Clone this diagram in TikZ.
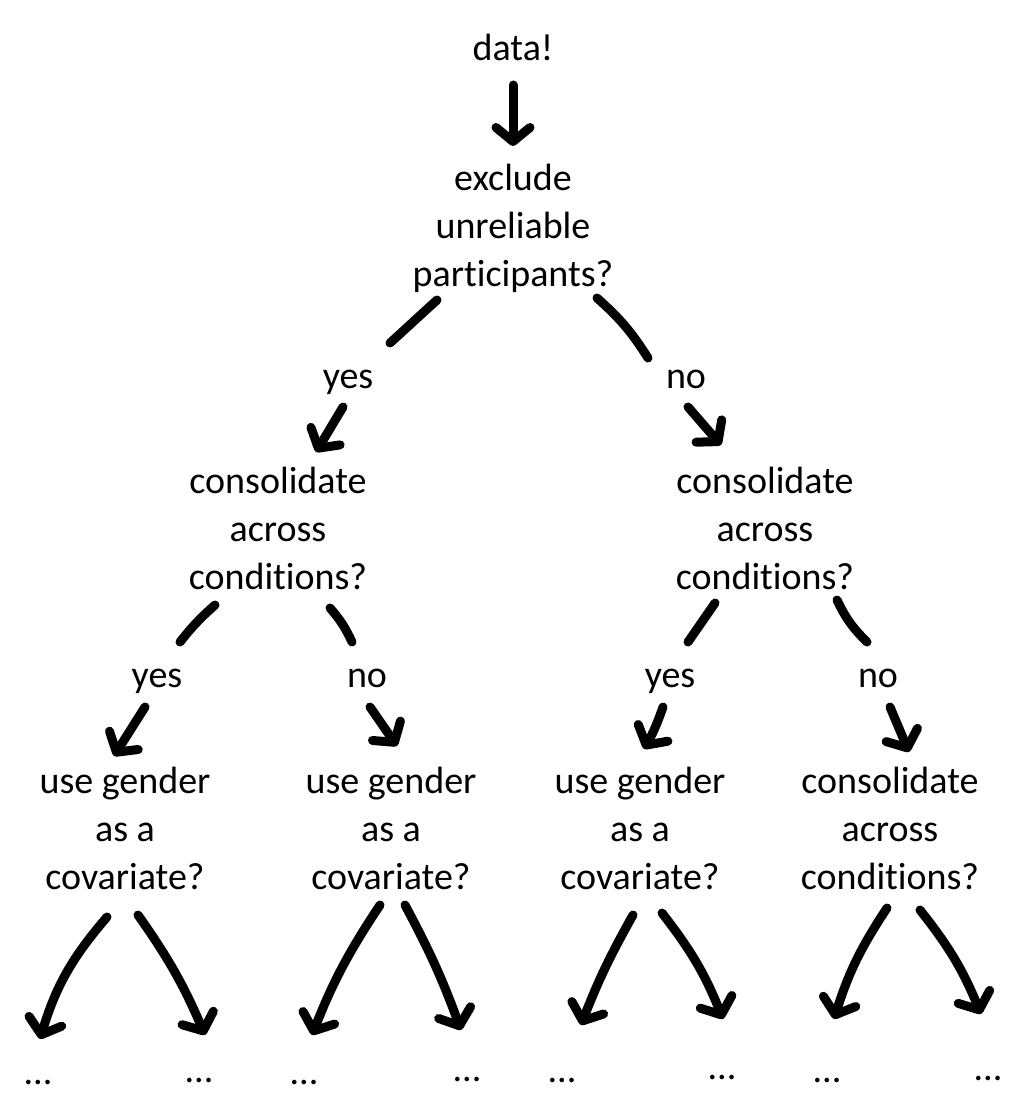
\documentclass[tikz,border=0pt]{standalone}
\usepackage{fontspec}
\setmainfont[Ligatures={NoCommon,NoContextual},RawFeature={-liga,-clig,-calt,-dlig}]{Carlito}
\newcommand\myti{t\kern0pt i}
\usetikzlibrary{arrows.meta}
\begin{document}
\begin{tikzpicture}[x=1pt,y=-1pt,
  txt/.style={inner sep=0pt,align=center,font=\fontsize{38}{48}\selectfont},
  lbl/.style={txt,anchor=base},
  stroke/.style={line width=9pt,line cap=round,line join=round},
  arr/.style={stroke,-{Straight Barb[length=14pt,width=34pt,line cap=round,line join=round]}}]
\useasboundingbox (0,0) rectangle (1034,1102);
% nodes
\node[txt] (data) at (513,47) {data!};
\node[txt] (excl) at (513,228) {exclude\\unreliable\\par\myti cipants?};
\node[lbl] (yA) at (348,388) {yes};
\node[lbl] (nA) at (686,388) {no};
\node[txt] (cL) at (278,528) {consolidate\\across\\condi\myti ons?};
\node[txt] (cR) at (765,528) {consolidate\\across\\condi\myti ons?};
\node[lbl] (yB) at (157,687) {yes};
\node[lbl] (nB) at (367,687) {no};
\node[lbl] (yC) at (670,687) {yes};
\node[lbl] (nC) at (878,687) {no};
\node[txt] (g1) at (125,828) {use gender\\as a\\covariate?};
\node[txt] (g2) at (391,828) {use gender\\as a\\covariate?};
\node[txt] (g3) at (640,828) {use gender\\as a\\covariate?};
\node[txt] (c4) at (890,828) {consolidate\\across\\condi\myti ons?};
\node[lbl] (d1) at (38,1084) {...};
\node[lbl] (d2) at (199,1082) {...};
\node[lbl] (d3) at (304,1084) {...};
\node[lbl] (d4) at (467,1081) {...};
\node[lbl] (d5) at (562,1082) {...};
\node[lbl] (d6) at (722,1079) {...};
\node[lbl] (d7) at (827,1082) {...};
\node[lbl] (d8) at (988,1080) {...};
% connector end points
\coordinate (a0s) at (513,85);   \coordinate (a0e) at (513,146);
\coordinate (l1s) at (437,300);  \coordinate (l1e) at (390,343);
\coordinate (r1s) at (597,298);  \coordinate (r1e) at (648,358);
\coordinate (l1as) at (343,407); \coordinate (l1ae) at (316,452);
\coordinate (r1as) at (688,407); \coordinate (r1ae) at (721,445);
\coordinate (l2s) at (215,605);  \coordinate (l2e) at (180,642);
\coordinate (l2as) at (145,707); \coordinate (l2ae) at (114,756);
\coordinate (m2s) at (330,608);  \coordinate (m2e) at (352,642);
\coordinate (m2as) at (370,707); \coordinate (m2ae) at (397,746);
\coordinate (n2s) at (715,603);  \coordinate (n2e) at (688,642);
\coordinate (n2as) at (663,707); \coordinate (n2ae) at (644,749);
\coordinate (o2s) at (837,600);  \coordinate (o2e) at (867,642);
\coordinate (o2as) at (890,707); \coordinate (o2ae) at (909,752);
% bottom level
\coordinate (b1s) at (107,917); \coordinate (b1e) at (40,1039);
\coordinate (b2s) at (138,915); \coordinate (b2e) at (205,1035);
\coordinate (b3s) at (380,905); \coordinate (b3e) at (312,1035);
\coordinate (b4s) at (405,905); \coordinate (b4e) at (461,1030);
\coordinate (b5s) at (633,915); \coordinate (b5e) at (581,1025);
\coordinate (b6s) at (662,913); \coordinate (b6e) at (723,1019);
\coordinate (b7s) at (887,908); \coordinate (b7e) at (834,1019);
\coordinate (b8s) at (920,910); \coordinate (b8e) at (981,1014);
% connectors
\draw[arr] (a0s) -- (a0e);
\draw[stroke] (l1s) -- (l1e);
\draw[stroke] (r1s) to[bend left=8] (r1e);
\draw[arr] (l1as) -- (l1ae);
\draw[arr] (r1as) -- (r1ae);
\draw[stroke] (l2s) to[bend right=5] (l2e);
\draw[arr] (l2as) -- (l2ae);
\draw[stroke] (m2s) to[bend left=8] (m2e);
\draw[arr] (m2as) -- (m2ae);
\draw[stroke] (n2s) -- (n2e);
\draw[arr] (n2as) to[bend left=5] (n2ae);
\draw[stroke] (o2s) to[bend right=10] (o2e);
\draw[arr] (o2as) -- (o2ae);
\draw[arr] (b1s) to[bend right=12] (b1e);
\draw[arr] (b2s) to[bend left=6] (b2e);
\draw[arr] (b3s) to[bend right=6] (b3e);
\draw[arr] (b4s) to[bend left=4] (b4e);
\draw[arr] (b5s) to[bend right=4] (b5e);
\draw[arr] (b6s) to[bend left=8] (b6e);
\draw[arr] (b7s) to[bend right=8] (b7e);
\draw[arr] (b8s) to[bend left=8] (b8e);
\end{tikzpicture}
\end{document}
